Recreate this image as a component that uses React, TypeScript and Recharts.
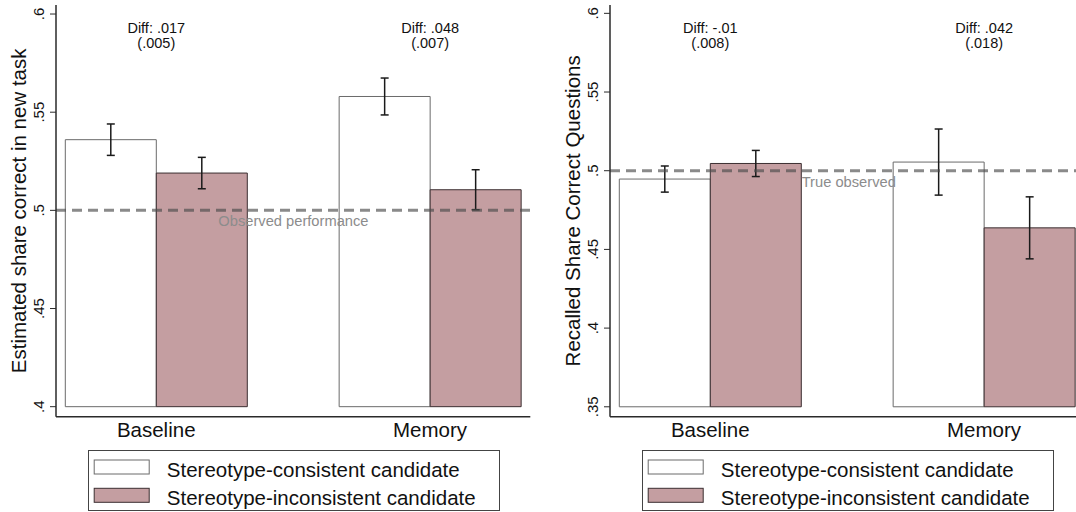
import React from 'react';
import { BarChart, Bar, XAxis, YAxis, ErrorBar, ReferenceLine, LabelList } from 'recharts';

const categories = ['Baseline', 'Memory'];

// left panel: estimated share correct in new task
const estConsistent = [0.536, 0.558];
const estConsistentSE = [0.008, 0.0094];
const estInconsistent = [0.519, 0.5105];
const estInconsistentSE = [0.008, 0.0102];
const estDiff = ['Diff: .017', 'Diff: .048'];
const estDiffSE = ['(.005)', '(.007)'];
const estTicks = [0.4, 0.45, 0.5, 0.55, 0.6];

// right panel: recalled share correct questions
const recConsistent = [0.4947, 0.5055];
const recConsistentSE = [0.0083, 0.021];
const recInconsistent = [0.5046, 0.4637];
const recInconsistentSE = [0.0083, 0.0197];
const recDiff = ['Diff: -.01', 'Diff: .042'];
const recDiffSE = ['(.008)', '(.018)'];
const recTicks = [0.35, 0.4, 0.45, 0.5, 0.55, 0.6];

const legendLabels = ['Stereotype-consistent candidate', 'Stereotype-inconsistent candidate'];

const PINK = '#c49ea1';
const PINK_EDGE = '#3b2f31';
const FRAME = '#2a2a2a';
const FONT = '"Liberation Sans", Arial, Helvetica, sans-serif';

const fmt = (v: number) => String(v).replace(/^0/, '');

const RotTick = (props: any) => {
  const { x, y, payload } = props;
  return (
    <text transform={`translate(${x - 4},${y}) rotate(-90)`} textAnchor="middle" fontSize={15} fill="#111">
      {fmt(payload.value)}
    </text>
  );
};

// diff + s.e. text above each group, centred where the two bars meet
const DiffLabel = (props: any) => {
  const { x, width, index, diff, se } = props;
  const cx = Number(x) + Number(width);
  return (
    <g fontSize={14.5} fill="#111">
      <text x={cx} y={33.3} textAnchor="middle">{diff[index]}</text>
      <text x={cx} y={47.7} textAnchor="middle">{se[index]}</text>
    </g>
  );
};

const AxisTitle = (props: any) => {
  const { viewBox, value } = props;
  const cy = viewBox.y + viewBox.height / 2;
  return (
    <text transform={`translate(18,${cy}) rotate(-90)`} textAnchor="middle" dominantBaseline="central" fontSize={20.5} fill="#111">
      {value}
    </text>
  );
};

const RefText = (props: any) => {
  const { viewBox, text, dx } = props;
  return (
    <text x={viewBox.x + dx} y={viewBox.y + 16} fontSize={14.7} fill="#8c8c8c">
      {text}
    </text>
  );
};

type PanelProps = {
  left: number;
  title: string;
  cons: number[];
  consSE: number[];
  incons: number[];
  inconsSE: number[];
  diff: string[];
  diffSE: string[];
  ticks: number[];
  domain: [number, number];
  refText: string;
  refDx: number;
};

const Panel = (p: PanelProps) => {
  const base = p.ticks[0];
  const data = categories.map((cat, i) => ({
    cat,
    cons: [base, p.cons[i]],
    consSE: p.consSE[i],
    incons: [base, p.incons[i]],
    inconsSE: p.inconsSE[i],
  }));
  const pad = { left: -36.7, right: -36.7 };
  const axisLine = { stroke: FRAME, strokeWidth: 1.5 };
  return (
    <div style={{ position: 'absolute', left: p.left, top: 0 }}>
      <BarChart
        width={540}
        height={512}
        data={data}
        margin={{ top: 5, right: 9.7, bottom: 55.3, left: 0 }}
        barGap={0}
        barSize={91}
      >
        <XAxis
          dataKey="cat"
          padding={pad}
          height={40}
          tickLine={false}
          tickSize={0}
          tickMargin={5.5}
          axisLine={axisLine}
          tick={{ fill: '#111', fontSize: 20.5 }}
          interval={0}
        />
        <XAxis
          xAxisId="top"
          orientation="top"
          height={0}
          tick={false}
          tickLine={false}
          axisLine={axisLine}
        />
        <YAxis
          domain={p.domain}
          allowDataOverflow
          ticks={p.ticks}
          width={56}
          tickSize={6}
          tickLine={{ stroke: FRAME }}
          axisLine={axisLine}
          tick={<RotTick />}
          label={<AxisTitle value={p.title} />}
        />
        <YAxis
          yAxisId="r"
          orientation="right"
          width={0}
          domain={[0, 1]}
          tick={false}
          tickLine={false}
          axisLine={axisLine}
        />
        <Bar dataKey="cons" fill="#ffffff" stroke="#6b6b6b" strokeWidth={1} isAnimationActive={false}>
          <ErrorBar dataKey="consSE" width={4} stroke="#1a1a1a" strokeWidth={1.5} />
          <LabelList dataKey="cat" content={<DiffLabel diff={p.diff} se={p.diffSE} />} />
        </Bar>
        <Bar dataKey="incons" fill={PINK} stroke={PINK_EDGE} strokeWidth={1} isAnimationActive={false}>
          <ErrorBar dataKey="inconsSE" width={4} stroke="#1a1a1a" strokeWidth={1.5} />
        </Bar>
        <ReferenceLine
          y={0.5}
          stroke="#4b4b4b"
          strokeOpacity={0.65}
          strokeWidth={3}
          strokeDasharray="10 6"
          label={<RefText text={p.refText} dx={p.refDx} />}
        />
      </BarChart>
    </div>
  );
};

const LegendBox = ({ left }: { left: number }) => (
  <svg style={{ position: 'absolute', left, top: 450 }} width={413} height={62}>
    <rect x={0.5} y={0.5} width={411} height={60} fill="none" stroke="#444" />
    <rect x={6.2} y={10} width={55} height={14} fill="#fff" stroke="#6b6b6b" />
    <rect x={6.2} y={38.3} width={55} height={14} fill={PINK} stroke={PINK_EDGE} />
    <text x={78.8} y={26.5} fontSize={20.5} fill="#111">{legendLabels[0]}</text>
    <text x={78.8} y={55} fontSize={20.5} fill="#111">{legendLabels[1]}</text>
  </svg>
);

export default function App() {
  return (
    <div
      style={{
        position: 'absolute',
        left: 0,
        top: 0,
        width: 1076,
        height: 512,
        overflow: 'hidden',
        background: '#fff',
        fontFamily: FONT,
      }}
    >
      <Panel
        left={0}
        title="Estimated share correct in new task"
        cons={estConsistent}
        consSE={estConsistentSE}
        incons={estInconsistent}
        inconsSE={estInconsistentSE}
        diff={estDiff}
        diffSE={estDiffSE}
        ticks={estTicks}
        domain={[0.3949, 0.6046]}
        refText="Observed performance"
        refDx={162.3}
      />
      <Panel
        left={554}
        title="Recalled Share Correct Questions"
        cons={recConsistent}
        consSE={recConsistentSE}
        incons={recInconsistent}
        inconsSE={recInconsistentSE}
        diff={recDiff}
        diffSE={recDiffSE}
        ticks={recTicks}
        domain={[0.3437, 0.6053]}
        refText="True observed"
        refDx={191.7}
      />
      <LegendBox left={87.5} />
      <LegendBox left={641.5} />
    </div>
  );
}
